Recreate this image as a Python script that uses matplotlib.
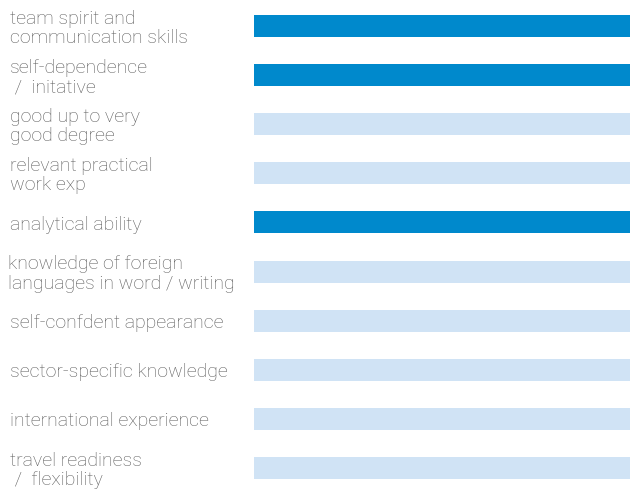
import matplotlib
matplotlib.use('Agg')
import matplotlib.pyplot as plt
import matplotlib.transforms as mtransforms

labels = ['team spirit and\ncommunication skills',
          'self-dependence\n /  initative',
          'good up to very\ngood degree',
          'relevant practical\nwork exp',
          'analytical ability',
          'knowledge of foreign\nlanguages in word / writing',
          'self-confdent appearance',
          'sector-specific knowledge',
          'international experience',
          'travel readiness\n /  flexibility']
values = [100, 100, 100, 100, 100, 100, 100, 100, 100, 100]
highlight = [True, True, False, False, True, False, False, False, False, False]

dark = '#0089cc'
light = '#d0e3f5'

fig = plt.figure(figsize=(6.3, 4.91), dpi=100)
ax = fig.add_axes([254/630, 0, 376/630, 1])

ypos = list(range(len(labels)))
colors = [dark if h else light for h in highlight]
ax.barh(ypos, values, height=0.45, color=colors, left=0)
ax.set_xlim(0, 100)
ax.set_ylim(9.468, -0.529)
ax.axis('off')

# labels sit at the left edge of the figure, centred on each bar (a touch lower)
trans = mtransforms.blended_transform_factory(fig.transFigure, ax.transData)
trans = trans + mtransforms.ScaledTranslation(0, -2.5/100, fig.dpi_scale_trans)
for y, lab in zip(ypos, labels):
    x0 = 8/630 if lab.startswith('knowledge') else 10/630
    ax.text(x0, y, lab, transform=trans, ha='left', va='center',
            fontsize=14, color='#5a5a5a', family=['Roboto', 'DejaVu Sans'],
            fontweight='light', linespacing=1.08)

fig.savefig('out.png', dpi=100)
